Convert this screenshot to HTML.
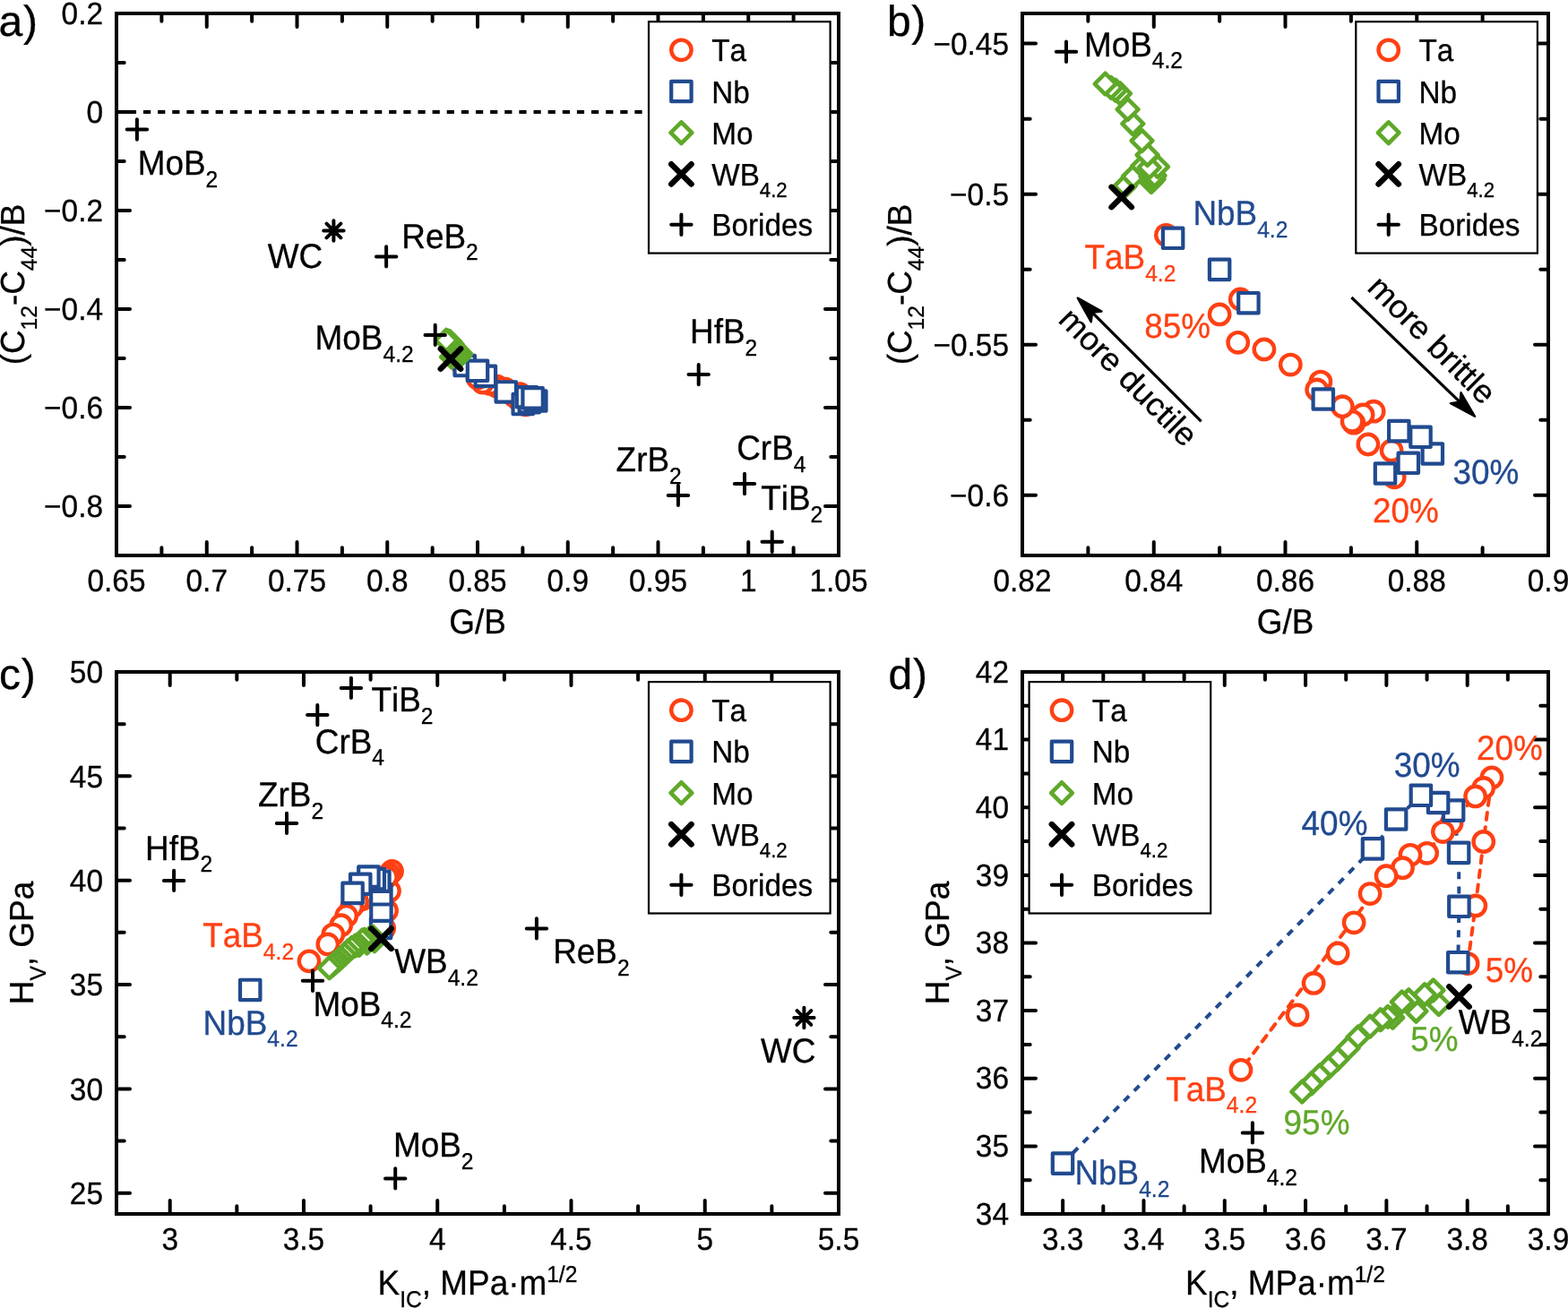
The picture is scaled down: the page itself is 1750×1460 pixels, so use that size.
<!DOCTYPE html>
<html lang="en"><head><meta charset="utf-8"><title>Figure</title>
<style>html,body{margin:0;padding:0;background:#fff}svg{display:block}text{white-space:pre;font-kerning:none;font-variant-ligatures:none;text-rendering:geometricPrecision}</style>
</head><body>
<svg xmlns="http://www.w3.org/2000/svg" width="1750" height="1460" viewBox="0 0 1750 1460" font-family='"Liberation Sans", Arial, Helvetica, sans-serif' fill="#000">
<rect width="1750" height="1460" fill="#fff"/>
<g id="pa">
<path d="M130 620v-15M130 15v15M180.38 620v-8.7M180.38 15v8.7M230.75 620v-15M230.75 15v15M281.13 620v-8.7M281.13 15v8.7M331.5 620v-15M331.5 15v15M381.88 620v-8.7M381.88 15v8.7M432.25 620v-15M432.25 15v15M482.63 620v-8.7M482.63 15v8.7M533 620v-15M533 15v15M583.37 620v-8.7M583.37 15v8.7M633.75 620v-15M633.75 15v15M684.12 620v-8.7M684.12 15v8.7M734.5 620v-15M734.5 15v15M784.88 620v-8.7M784.88 15v8.7M835.25 620v-15M835.25 15v15M885.62 620v-8.7M885.62 15v8.7M936 620v-15M936 15v15M130 620h8.7M936 620h-8.7M130 565h15M936 565h-15M130 510h8.7M936 510h-8.7M130 455h15M936 455h-15M130 400h8.7M936 400h-8.7M130 345h15M936 345h-15M130 290h8.7M936 290h-8.7M130 235h15M936 235h-15M130 180h8.7M936 180h-8.7M130 125h15M936 125h-15M130 70h8.7M936 70h-8.7M130 15h15M936 15h-15" fill="none" stroke="#000" stroke-width="4" stroke-linecap="round"/>
<path d="M130 125H930" stroke="#000" stroke-width="4" stroke-dasharray="8.2 7.93" stroke-dashoffset="2.26" fill="none"/>
<g fill="#fff" stroke="#FF4013" stroke-width="4.4"><circle cx="516.6" cy="407.47" r="11.2"/><circle cx="586.57" cy="451.73" r="11.2"/><circle cx="585.72" cy="446.84" r="11.2"/><circle cx="578.52" cy="445.71" r="11.2"/><circle cx="580.23" cy="439.69" r="11.2"/><circle cx="576.93" cy="440.29" r="11.2"/><circle cx="574.13" cy="441.81" r="11.2"/><circle cx="573.64" cy="441.5" r="11.2"/><circle cx="570.67" cy="438.79" r="11.2"/><circle cx="563.97" cy="434.27" r="11.2"/><circle cx="562.82" cy="435.71" r="11.2"/><circle cx="554.74" cy="431.16" r="11.2"/><circle cx="546.67" cy="428.36" r="11.2"/><circle cx="538.65" cy="427.1" r="11.2"/><circle cx="539.36" cy="419.2" r="11.2"/><circle cx="532.99" cy="421.97" r="11.2"/></g>
<g fill="#fff" stroke="#214A8F" stroke-width="4.2" stroke-linejoin="round"><rect x="507.51" y="396.84" width="22.4" height="22.4"/><rect x="530.66" y="408.69" width="22.4" height="22.4"/><rect x="553.57" y="426.25" width="22.4" height="22.4"/><rect x="572.57" y="439.83" width="22.4" height="22.4"/><rect x="579.65" y="437.91" width="22.4" height="22.4"/><rect x="576.77" y="432.07" width="22.4" height="22.4"/><rect x="587.07" y="436.23" width="22.4" height="22.4"/><rect x="583.42" y="433.17" width="22.4" height="22.4"/><rect x="521.79" y="402.58" width="22.4" height="22.4"/></g>
<g fill="#fff" stroke="#5FA829" stroke-width="4.6" stroke-linejoin="round"><path d="M504.08 386.7l11.8 11.8l-11.8 11.8l-11.8 -11.8z"/><path d="M506.58 384.98l11.8 11.8l-11.8 11.8l-11.8 -11.8z"/><path d="M509.4 383.08l11.8 11.8l-11.8 11.8l-11.8 -11.8z"/><path d="M511.93 384.97l11.8 11.8l-11.8 11.8l-11.8 -11.8z"/><path d="M512.07 385.98l11.8 11.8l-11.8 11.8l-11.8 -11.8z"/><path d="M512.81 385.47l11.8 11.8l-11.8 11.8l-11.8 -11.8z"/><path d="M513.08 384.82l11.8 11.8l-11.8 11.8l-11.8 -11.8z"/><path d="M514.04 383.2l11.8 11.8l-11.8 11.8l-11.8 -11.8z"/><path d="M511.46 383.31l11.8 11.8l-11.8 11.8l-11.8 -11.8z"/><path d="M510.89 381.05l11.8 11.8l-11.8 11.8l-11.8 -11.8z"/><path d="M509.21 378.45l11.8 11.8l-11.8 11.8l-11.8 -11.8z"/><path d="M506.41 375.36l11.8 11.8l-11.8 11.8l-11.8 -11.8z"/><path d="M504.84 372.73l11.8 11.8l-11.8 11.8l-11.8 -11.8z"/><path d="M502.48 369.81l11.8 11.8l-11.8 11.8l-11.8 -11.8z"/><path d="M501.11 369.22l11.8 11.8l-11.8 11.8l-11.8 -11.8z"/><path d="M499.74 368.77l11.8 11.8l-11.8 11.8l-11.8 -11.8z"/><path d="M497.98 368.06l11.8 11.8l-11.8 11.8l-11.8 -11.8z"/></g>
<path d="M491.75 389.35l22.4 22.4M491.75 411.75l22.4 -22.4" fill="none" stroke="#000" stroke-width="6.4" stroke-linecap="round"/>
<path d="M141.7 144.5h22.4M152.9 133.3v22.4" fill="none" stroke="#000" stroke-width="4" stroke-linecap="round"/>
<path d="M419.9 286.4h22.4M431.1 275.2v22.4" fill="none" stroke="#000" stroke-width="4" stroke-linecap="round"/>
<path d="M474.5 373.9h22.4M485.7 362.7v22.4" fill="none" stroke="#000" stroke-width="4" stroke-linecap="round"/>
<path d="M768.5 418.1h22.4M779.7 406.9v22.4" fill="none" stroke="#000" stroke-width="4" stroke-linecap="round"/>
<path d="M745.7 552.9h22.4M756.9 541.7v22.4" fill="none" stroke="#000" stroke-width="4" stroke-linecap="round"/>
<path d="M819.8 540h22.4M831 528.8v22.4" fill="none" stroke="#000" stroke-width="4" stroke-linecap="round"/>
<path d="M850.5 604.7h22.4M861.7 593.5v22.4" fill="none" stroke="#000" stroke-width="4" stroke-linecap="round"/>
<path d="M361.2 257.5h22.4M372.4 246.3v22.4M364.48 249.58l15.84 15.84M364.48 265.42l15.84 -15.84" fill="none" stroke="#000" stroke-width="4" stroke-linecap="round"/>
<rect x="724" y="24.2" width="202.6" height="258.4" fill="#fff" stroke="#000" stroke-width="2.2"/>
<g fill="#fff" stroke="#FF4013" stroke-width="4.4"><circle cx="760.4" cy="55.8" r="11.2"/></g>
<g fill="#fff" stroke="#214A8F" stroke-width="4.2" stroke-linejoin="round"><rect x="749.2" y="90.8" width="22.4" height="22.4"/></g>
<g fill="#fff" stroke="#5FA829" stroke-width="4.6" stroke-linejoin="round"><path d="M760.4 136.4l11.8 11.8l-11.8 11.8l-11.8 -11.8z"/></g>
<path d="M749.2 183.2l22.4 22.4M749.2 205.6l22.4 -22.4" fill="none" stroke="#000" stroke-width="6.4" stroke-linecap="round"/>
<path d="M749.2 250.8h22.4M760.4 239.6v22.4" fill="none" stroke="#000" stroke-width="4" stroke-linecap="round"/>
<text transform="translate(794.2 68.3) scale(1 1.045)" font-size="33.3" stroke="#000" stroke-width="0.3">Ta</text>
<text transform="translate(794.2 114.5) scale(1 1.045)" font-size="33.3" stroke="#000" stroke-width="0.3">Nb</text>
<text transform="translate(794.2 160.7) scale(1 1.045)" font-size="33.3" stroke="#000" stroke-width="0.3">Mo</text>
<text transform="translate(794.2 206.9) scale(1 1.045)" font-size="33.3" stroke="#000" stroke-width="0.3">WB<tspan dx="0" dy="12.34" font-size="22.2">4.2</tspan></text>
<text transform="translate(794.2 263.3) scale(1 1.045)" font-size="33.3" stroke="#000" stroke-width="0.3">Borides</text>
<rect x="130" y="15" width="806" height="605" fill="none" stroke="#000" stroke-width="4"/>
<text transform="translate(130 660) scale(1 1.045)" font-size="33.4" text-anchor="middle" stroke="#000" stroke-width="0.3">0.65</text>
<text transform="translate(230.75 660) scale(1 1.045)" font-size="33.4" text-anchor="middle" stroke="#000" stroke-width="0.3">0.7</text>
<text transform="translate(331.5 660) scale(1 1.045)" font-size="33.4" text-anchor="middle" stroke="#000" stroke-width="0.3">0.75</text>
<text transform="translate(432.25 660) scale(1 1.045)" font-size="33.4" text-anchor="middle" stroke="#000" stroke-width="0.3">0.8</text>
<text transform="translate(533 660) scale(1 1.045)" font-size="33.4" text-anchor="middle" stroke="#000" stroke-width="0.3">0.85</text>
<text transform="translate(633.75 660) scale(1 1.045)" font-size="33.4" text-anchor="middle" stroke="#000" stroke-width="0.3">0.9</text>
<text transform="translate(734.5 660) scale(1 1.045)" font-size="33.4" text-anchor="middle" stroke="#000" stroke-width="0.3">0.95</text>
<text transform="translate(835.25 660) scale(1 1.045)" font-size="33.4" text-anchor="middle" stroke="#000" stroke-width="0.3">1</text>
<text transform="translate(936 660) scale(1 1.045)" font-size="33.4" text-anchor="middle" stroke="#000" stroke-width="0.3">1.05</text>
<text transform="translate(115 577.3) scale(1 1.045)" font-size="33.4" text-anchor="end" stroke="#000" stroke-width="0.3">−0.8</text>
<text transform="translate(115 467.3) scale(1 1.045)" font-size="33.4" text-anchor="end" stroke="#000" stroke-width="0.3">−0.6</text>
<text transform="translate(115 357.3) scale(1 1.045)" font-size="33.4" text-anchor="end" stroke="#000" stroke-width="0.3">−0.4</text>
<text transform="translate(115 247.3) scale(1 1.045)" font-size="33.4" text-anchor="end" stroke="#000" stroke-width="0.3">−0.2</text>
<text transform="translate(115 137.3) scale(1 1.045)" font-size="33.4" text-anchor="end" stroke="#000" stroke-width="0.3">0</text>
<text transform="translate(115 27.3) scale(1 1.045)" font-size="33.4" text-anchor="end" stroke="#000" stroke-width="0.3">0.2</text>
<text transform="translate(153.7 194.8) scale(1 1.045)" font-size="36.9" stroke="#000" stroke-width="0.3">MoB<tspan dx="0" dy="13.21" font-size="24.6">2</tspan></text>
<text transform="translate(298.8 298.8) scale(1 1.045)" font-size="36.9" stroke="#000" stroke-width="0.3">WC</text>
<text transform="translate(448.3 276.6) scale(1 1.045)" font-size="36.9" stroke="#000" stroke-width="0.3">ReB<tspan dx="0" dy="13.21" font-size="24.6">2</tspan></text>
<text transform="translate(351.6 389.8) scale(1 1.045)" font-size="36.9" stroke="#000" stroke-width="0.3">MoB<tspan dx="0" dy="13.21" font-size="24.6">4.2</tspan></text>
<text transform="translate(770 382.9) scale(1 1.045)" font-size="36.9" stroke="#000" stroke-width="0.3">HfB<tspan dx="0" dy="13.21" font-size="24.6">2</tspan></text>
<text transform="translate(687.6 526.2) scale(1 1.045)" font-size="36.9" stroke="#000" stroke-width="0.3">ZrB<tspan dx="0" dy="13.21" font-size="24.6">2</tspan></text>
<text transform="translate(822.2 512.9) scale(1 1.045)" font-size="36.9" stroke="#000" stroke-width="0.3">CrB<tspan dx="0" dy="13.21" font-size="24.6">4</tspan></text>
<text transform="translate(849.2 569.1) scale(1 1.045)" font-size="36.9" stroke="#000" stroke-width="0.3">TiB<tspan dx="0" dy="13.21" font-size="24.6">2</tspan></text>
<text transform="translate(533 706.9) scale(1 1.045)" font-size="36.9" text-anchor="middle" stroke="#000" stroke-width="0.3">G/B</text>
<text transform="translate(27 317.5) rotate(-90) scale(1 1.02)" font-size="36.9" text-anchor="middle" stroke="#000" stroke-width="0.3">(C<tspan dx="0" dy="13.53" font-size="24.6">12</tspan><tspan dy="-13.53" font-size="36.9">-C</tspan><tspan dx="0" dy="13.53" font-size="24.6">44</tspan><tspan dy="-13.53" font-size="36.9">)/B</tspan></text>
<text x="-1.4" y="40" font-size="48" stroke="#000" stroke-width="0.3">a<tspan dx="0.7">)</tspan></text>
</g>
<g id="pb">
<path d="M1141 620v-15M1141 15v15M1214.38 620v-8.7M1214.38 15v8.7M1287.75 620v-15M1287.75 15v15M1361.12 620v-8.7M1361.12 15v8.7M1434.5 620v-15M1434.5 15v15M1507.88 620v-8.7M1507.88 15v8.7M1581.25 620v-15M1581.25 15v15M1654.62 620v-8.7M1654.62 15v8.7M1728 620v-15M1728 15v15M1141 552.78h15M1728 552.78h-15M1141 468.75h8.7M1728 468.75h-8.7M1141 384.72h15M1728 384.72h-15M1141 300.69h8.7M1728 300.69h-8.7M1141 216.67h15M1728 216.67h-15M1141 132.64h8.7M1728 132.64h-8.7M1141 48.61h15M1728 48.61h-15" fill="none" stroke="#000" stroke-width="4" stroke-linecap="round"/>
<g fill="#fff" stroke="#FF4013" stroke-width="4.4"><circle cx="1301.4" cy="262.3" r="11.2"/><circle cx="1556.2" cy="532.8" r="11.2"/><circle cx="1553.1" cy="502.9" r="11.2"/><circle cx="1526.9" cy="496" r="11.2"/><circle cx="1533.1" cy="459.2" r="11.2"/><circle cx="1521.1" cy="462.9" r="11.2"/><circle cx="1510.9" cy="472.2" r="11.2"/><circle cx="1509.1" cy="470.3" r="11.2"/><circle cx="1498.3" cy="453.7" r="11.2"/><circle cx="1473.9" cy="426.1" r="11.2"/><circle cx="1469.7" cy="434.9" r="11.2"/><circle cx="1440.3" cy="407.1" r="11.2"/><circle cx="1410.9" cy="390" r="11.2"/><circle cx="1381.7" cy="382.3" r="11.2"/><circle cx="1384.3" cy="334" r="11.2"/><circle cx="1361.1" cy="350.9" r="11.2"/></g>
<g fill="#fff" stroke="#214A8F" stroke-width="4.2" stroke-linejoin="round"><rect x="1297.9" y="254.6" width="22.4" height="22.4"/><rect x="1382.2" y="327" width="22.4" height="22.4"/><rect x="1465.6" y="434.3" width="22.4" height="22.4"/><rect x="1534.8" y="517.3" width="22.4" height="22.4"/><rect x="1560.6" y="505.6" width="22.4" height="22.4"/><rect x="1550.1" y="469.9" width="22.4" height="22.4"/><rect x="1587.6" y="495.3" width="22.4" height="22.4"/><rect x="1574.3" y="476.6" width="22.4" height="22.4"/><rect x="1349.9" y="289.7" width="22.4" height="22.4"/></g>
<g fill="#fff" stroke="#5FA829" stroke-width="4.6" stroke-linejoin="round"><path d="M1255.8 195.7l11.8 11.8l-11.8 11.8l-11.8 -11.8z"/><path d="M1264.9 185.2l11.8 11.8l-11.8 11.8l-11.8 -11.8z"/><path d="M1275.2 173.6l11.8 11.8l-11.8 11.8l-11.8 -11.8z"/><path d="M1284.4 185.1l11.8 11.8l-11.8 11.8l-11.8 -11.8z"/><path d="M1284.9 191.3l11.8 11.8l-11.8 11.8l-11.8 -11.8z"/><path d="M1287.6 188.2l11.8 11.8l-11.8 11.8l-11.8 -11.8z"/><path d="M1288.6 184.2l11.8 11.8l-11.8 11.8l-11.8 -11.8z"/><path d="M1292.1 174.3l11.8 11.8l-11.8 11.8l-11.8 -11.8z"/><path d="M1282.7 175l11.8 11.8l-11.8 11.8l-11.8 -11.8z"/><path d="M1280.6 161.2l11.8 11.8l-11.8 11.8l-11.8 -11.8z"/><path d="M1274.5 145.3l11.8 11.8l-11.8 11.8l-11.8 -11.8z"/><path d="M1264.3 126.4l11.8 11.8l-11.8 11.8l-11.8 -11.8z"/><path d="M1258.6 110.3l11.8 11.8l-11.8 11.8l-11.8 -11.8z"/><path d="M1250 92.5l11.8 11.8l-11.8 11.8l-11.8 -11.8z"/><path d="M1245 88.9l11.8 11.8l-11.8 11.8l-11.8 -11.8z"/><path d="M1240 86.1l11.8 11.8l-11.8 11.8l-11.8 -11.8z"/><path d="M1233.6 81.8l11.8 11.8l-11.8 11.8l-11.8 -11.8z"/></g>
<path d="M1240.5 208.8l22.4 22.4M1240.5 231.2l22.4 -22.4" fill="none" stroke="#000" stroke-width="6.4" stroke-linecap="round"/>
<path d="M1178.8 57.7h22.4M1190 46.5v22.4" fill="none" stroke="#000" stroke-width="4" stroke-linecap="round"/>
<rect x="1513.3" y="24.2" width="202.6" height="258.4" fill="#fff" stroke="#000" stroke-width="2.2"/>
<g fill="#fff" stroke="#FF4013" stroke-width="4.4"><circle cx="1549.7" cy="55.8" r="11.2"/></g>
<g fill="#fff" stroke="#214A8F" stroke-width="4.2" stroke-linejoin="round"><rect x="1538.5" y="90.8" width="22.4" height="22.4"/></g>
<g fill="#fff" stroke="#5FA829" stroke-width="4.6" stroke-linejoin="round"><path d="M1549.7 136.4l11.8 11.8l-11.8 11.8l-11.8 -11.8z"/></g>
<path d="M1538.5 183.2l22.4 22.4M1538.5 205.6l22.4 -22.4" fill="none" stroke="#000" stroke-width="6.4" stroke-linecap="round"/>
<path d="M1538.5 250.8h22.4M1549.7 239.6v22.4" fill="none" stroke="#000" stroke-width="4" stroke-linecap="round"/>
<text transform="translate(1583.5 68.3) scale(1 1.045)" font-size="33.3" stroke="#000" stroke-width="0.3">Ta</text>
<text transform="translate(1583.5 114.5) scale(1 1.045)" font-size="33.3" stroke="#000" stroke-width="0.3">Nb</text>
<text transform="translate(1583.5 160.7) scale(1 1.045)" font-size="33.3" stroke="#000" stroke-width="0.3">Mo</text>
<text transform="translate(1583.5 206.9) scale(1 1.045)" font-size="33.3" stroke="#000" stroke-width="0.3">WB<tspan dx="0" dy="12.34" font-size="22.2">4.2</tspan></text>
<text transform="translate(1583.5 263.3) scale(1 1.045)" font-size="33.3" stroke="#000" stroke-width="0.3">Borides</text>
<rect x="1141" y="15" width="587" height="605" fill="none" stroke="#000" stroke-width="4"/>
<text transform="translate(1141 660) scale(1 1.045)" font-size="33.4" text-anchor="middle" stroke="#000" stroke-width="0.3">0.82</text>
<text transform="translate(1287.75 660) scale(1 1.045)" font-size="33.4" text-anchor="middle" stroke="#000" stroke-width="0.3">0.84</text>
<text transform="translate(1434.5 660) scale(1 1.045)" font-size="33.4" text-anchor="middle" stroke="#000" stroke-width="0.3">0.86</text>
<text transform="translate(1581.25 660) scale(1 1.045)" font-size="33.4" text-anchor="middle" stroke="#000" stroke-width="0.3">0.88</text>
<text transform="translate(1728 660) scale(1 1.045)" font-size="33.4" text-anchor="middle" stroke="#000" stroke-width="0.3">0.9</text>
<text transform="translate(1126 565.08) scale(1 1.045)" font-size="33.4" text-anchor="end" stroke="#000" stroke-width="0.3">−0.6</text>
<text transform="translate(1126 397.02) scale(1 1.045)" font-size="33.4" text-anchor="end" stroke="#000" stroke-width="0.3">−0.55</text>
<text transform="translate(1126 228.97) scale(1 1.045)" font-size="33.4" text-anchor="end" stroke="#000" stroke-width="0.3">−0.5</text>
<text transform="translate(1126 60.91) scale(1 1.045)" font-size="33.4" text-anchor="end" stroke="#000" stroke-width="0.3">−0.45</text>
<text transform="translate(1209.9 62.6) scale(1 1.045)" font-size="36.9" stroke="#000" stroke-width="0.3">MoB<tspan dx="0" dy="13.21" font-size="24.6">4.2</tspan></text>
<text transform="translate(1331.4 251.1) scale(1 1.045)" font-size="36.9" fill="#214A8F" stroke="#214A8F" stroke-width="0.3">NbB<tspan dx="0" dy="13.21" font-size="24.6">4.2</tspan></text>
<text transform="translate(1210.5 300.1) scale(1 1.045)" font-size="36.9" fill="#FF4013" stroke="#FF4013" stroke-width="0.3">TaB<tspan dx="0" dy="13.21" font-size="24.6">4.2</tspan></text>
<text transform="translate(1277.3 377.1) scale(1 1.045)" font-size="36.9" fill="#FF4013" stroke="#FF4013" stroke-width="0.3">85%</text>
<text transform="translate(1532 583.4) scale(1 1.045)" font-size="36.9" fill="#FF4013" stroke="#FF4013" stroke-width="0.3">20%</text>
<text transform="translate(1621.5 540.2) scale(1 1.045)" font-size="36.9" fill="#214A8F" stroke="#214A8F" stroke-width="0.3">30%</text>
<path d="M1340.6 470.4L1219.03 348.92" stroke="#000" stroke-width="3.2" fill="none"/>
<path d="M1202.76 332.66L1229.5 347.64L1219.03 348.92L1217.76 359.38z" fill="#000" stroke="#000" stroke-width="2.4" stroke-linejoin="round"/>
<path d="M1508.4 332L1629.47 448.79" stroke="#000" stroke-width="3.2" fill="none"/>
<path d="M1646.02 464.76L1619.03 450.25L1629.47 448.79L1630.55 438.3z" fill="#000" stroke="#000" stroke-width="2.4" stroke-linejoin="round"/>
<text transform="translate(1179.7 358.4) rotate(45) scale(1 0.98)" font-size="36.9" stroke="#000" stroke-width="0.3">more ductile</text>
<text transform="translate(1524.4 322.7) rotate(45) scale(1 0.98)" font-size="36.9" stroke="#000" stroke-width="0.3">more brittle</text>
<text transform="translate(1434.5 706.9) scale(1 1.045)" font-size="36.9" text-anchor="middle" stroke="#000" stroke-width="0.3">G/B</text>
<text transform="translate(1017 317.5) rotate(-90) scale(1 1.02)" font-size="36.9" text-anchor="middle" stroke="#000" stroke-width="0.3">(C<tspan dx="0" dy="13.53" font-size="24.6">12</tspan><tspan dy="-13.53" font-size="36.9">-C</tspan><tspan dx="0" dy="13.53" font-size="24.6">44</tspan><tspan dy="-13.53" font-size="36.9">)/B</tspan></text>
<text x="989.9" y="39.7" font-size="48" stroke="#000" stroke-width="0.3">b<tspan dx="0.7">)</tspan></text>
</g>
<g id="pc">
<path d="M189.7 1355v-15M189.7 750v15M264.33 1355v-8.7M264.33 750v8.7M338.96 1355v-15M338.96 750v15M413.59 1355v-8.7M413.59 750v8.7M488.22 1355v-15M488.22 750v15M562.85 1355v-8.7M562.85 750v8.7M637.48 1355v-15M637.48 750v15M712.11 1355v-8.7M712.11 750v8.7M786.74 1355v-15M786.74 750v15M861.37 1355v-8.7M861.37 750v8.7M936 1355v-15M936 750v15M130 1331.73h15M936 1331.73h-15M130 1273.56h8.7M936 1273.56h-8.7M130 1215.38h15M936 1215.38h-15M130 1157.21h8.7M936 1157.21h-8.7M130 1099.04h15M936 1099.04h-15M130 1040.87h8.7M936 1040.87h-8.7M130 982.69h15M936 982.69h-15M130 924.52h8.7M936 924.52h-8.7M130 866.35h15M936 866.35h-15M130 808.17h8.7M936 808.17h-8.7M130 750h15M936 750h-15" fill="none" stroke="#000" stroke-width="4" stroke-linecap="round"/>
<g fill="#fff" stroke="#FF4013" stroke-width="4.4"><circle cx="344.96" cy="1072.86" r="11.2"/><circle cx="428.65" cy="1036.34" r="11.2"/><circle cx="431.53" cy="1016.46" r="11.2"/><circle cx="434.47" cy="994.46" r="11.2"/><circle cx="437.51" cy="972.46" r="11.2"/><circle cx="434.47" cy="975.97" r="11.2"/><circle cx="431.46" cy="978.89" r="11.2"/><circle cx="422.67" cy="988.12" r="11.2"/><circle cx="419.5" cy="991.11" r="11.2"/><circle cx="413.61" cy="998.4" r="11.2"/><circle cx="407.46" cy="999.02" r="11.2"/><circle cx="404.65" cy="1003.45" r="11.2"/><circle cx="398.57" cy="1006.22" r="11.2"/><circle cx="392.62" cy="1012.34" r="11.2"/><circle cx="386.67" cy="1022.25" r="11.2"/><circle cx="380.72" cy="1032.77" r="11.2"/><circle cx="371.8" cy="1043.05" r="11.2"/><circle cx="365.81" cy="1053.97" r="11.2"/></g>
<g fill="#fff" stroke="#214A8F" stroke-width="4.2" stroke-linejoin="round"><rect x="413.88" y="1024.71" width="22.4" height="22.4"/><rect x="414.25" y="1005.51" width="22.4" height="22.4"/><rect x="414.15" y="987.08" width="22.4" height="22.4"/><rect x="412.16" y="972.52" width="22.4" height="22.4"/><rect x="406.54" y="969.88" width="22.4" height="22.4"/><rect x="400.2" y="967.35" width="22.4" height="22.4"/><rect x="391.01" y="975.57" width="22.4" height="22.4"/><rect x="382.38" y="985.69" width="22.4" height="22.4"/><rect x="268.01" y="1093.75" width="22.4" height="22.4"/></g>
<g fill="#fff" stroke="#5FA829" stroke-width="4.6" stroke-linejoin="round"><path d="M417.98 1038.54l11.8 11.8l-11.8 11.8l-11.8 -11.8z"/><path d="M415.93 1033.71l11.8 11.8l-11.8 11.8l-11.8 -11.8z"/><path d="M412.75 1035.18l11.8 11.8l-11.8 11.8l-11.8 -11.8z"/><path d="M409.61 1040.88l11.8 11.8l-11.8 11.8l-11.8 -11.8z"/><path d="M406.87 1037.06l11.8 11.8l-11.8 11.8l-11.8 -11.8z"/><path d="M404.39 1037.71l11.8 11.8l-11.8 11.8l-11.8 -11.8z"/><path d="M400.95 1043.06l11.8 11.8l-11.8 11.8l-11.8 -11.8z"/><path d="M399.17 1042.78l11.8 11.8l-11.8 11.8l-11.8 -11.8z"/><path d="M396.46 1043.83l11.8 11.8l-11.8 11.8l-11.8 -11.8z"/><path d="M392.59 1046.14l11.8 11.8l-11.8 11.8l-11.8 -11.8z"/><path d="M388.13 1049.77l11.8 11.8l-11.8 11.8l-11.8 -11.8z"/><path d="M384.52 1053.52l11.8 11.8l-11.8 11.8l-11.8 -11.8z"/><path d="M380.59 1057.34l11.8 11.8l-11.8 11.8l-11.8 -11.8z"/><path d="M377.25 1060.29l11.8 11.8l-11.8 11.8l-11.8 -11.8z"/><path d="M374.01 1062.94l11.8 11.8l-11.8 11.8l-11.8 -11.8z"/><path d="M370.97 1065.74l11.8 11.8l-11.8 11.8l-11.8 -11.8z"/><path d="M367.53 1068.54l11.8 11.8l-11.8 11.8l-11.8 -11.8z"/></g>
<path d="M414.28 1036.49l22.4 22.4M414.28 1058.89l22.4 -22.4" fill="none" stroke="#000" stroke-width="6.4" stroke-linecap="round"/>
<path d="M380.7 767.9h22.4M391.9 756.7v22.4" fill="none" stroke="#000" stroke-width="4" stroke-linecap="round"/>
<path d="M343.1 798.1h22.4M354.3 786.9v22.4" fill="none" stroke="#000" stroke-width="4" stroke-linecap="round"/>
<path d="M308.8 918.9h22.4M320 907.7v22.4" fill="none" stroke="#000" stroke-width="4" stroke-linecap="round"/>
<path d="M182.9 982.9h22.4M194.1 971.7v22.4" fill="none" stroke="#000" stroke-width="4" stroke-linecap="round"/>
<path d="M337.8 1094.7h22.4M349 1083.5v22.4" fill="none" stroke="#000" stroke-width="4" stroke-linecap="round"/>
<path d="M587.7 1036.4h22.4M598.9 1025.2v22.4" fill="none" stroke="#000" stroke-width="4" stroke-linecap="round"/>
<path d="M430 1315.4h22.4M441.2 1304.2v22.4" fill="none" stroke="#000" stroke-width="4" stroke-linecap="round"/>
<path d="M886.2 1136h22.4M897.4 1124.8v22.4M889.48 1128.08l15.84 15.84M889.48 1143.92l15.84 -15.84" fill="none" stroke="#000" stroke-width="4" stroke-linecap="round"/>
<rect x="724" y="761.1" width="202.6" height="258.4" fill="#fff" stroke="#000" stroke-width="2.2"/>
<g fill="#fff" stroke="#FF4013" stroke-width="4.4"><circle cx="760.4" cy="792.7" r="11.2"/></g>
<g fill="#fff" stroke="#214A8F" stroke-width="4.2" stroke-linejoin="round"><rect x="749.2" y="827.7" width="22.4" height="22.4"/></g>
<g fill="#fff" stroke="#5FA829" stroke-width="4.6" stroke-linejoin="round"><path d="M760.4 873.3l11.8 11.8l-11.8 11.8l-11.8 -11.8z"/></g>
<path d="M749.2 920.1l22.4 22.4M749.2 942.5l22.4 -22.4" fill="none" stroke="#000" stroke-width="6.4" stroke-linecap="round"/>
<path d="M749.2 987.7h22.4M760.4 976.5v22.4" fill="none" stroke="#000" stroke-width="4" stroke-linecap="round"/>
<text transform="translate(794.2 805.2) scale(1 1.045)" font-size="33.3" stroke="#000" stroke-width="0.3">Ta</text>
<text transform="translate(794.2 851.4) scale(1 1.045)" font-size="33.3" stroke="#000" stroke-width="0.3">Nb</text>
<text transform="translate(794.2 897.6) scale(1 1.045)" font-size="33.3" stroke="#000" stroke-width="0.3">Mo</text>
<text transform="translate(794.2 943.8) scale(1 1.045)" font-size="33.3" stroke="#000" stroke-width="0.3">WB<tspan dx="0" dy="12.34" font-size="22.2">4.2</tspan></text>
<text transform="translate(794.2 1000.2) scale(1 1.045)" font-size="33.3" stroke="#000" stroke-width="0.3">Borides</text>
<rect x="130" y="750" width="806" height="605" fill="none" stroke="#000" stroke-width="4"/>
<text transform="translate(189.7 1395) scale(1 1.045)" font-size="33.4" text-anchor="middle" stroke="#000" stroke-width="0.3">3</text>
<text transform="translate(338.96 1395) scale(1 1.045)" font-size="33.4" text-anchor="middle" stroke="#000" stroke-width="0.3">3.5</text>
<text transform="translate(488.22 1395) scale(1 1.045)" font-size="33.4" text-anchor="middle" stroke="#000" stroke-width="0.3">4</text>
<text transform="translate(637.48 1395) scale(1 1.045)" font-size="33.4" text-anchor="middle" stroke="#000" stroke-width="0.3">4.5</text>
<text transform="translate(786.74 1395) scale(1 1.045)" font-size="33.4" text-anchor="middle" stroke="#000" stroke-width="0.3">5</text>
<text transform="translate(936 1395) scale(1 1.045)" font-size="33.4" text-anchor="middle" stroke="#000" stroke-width="0.3">5.5</text>
<text transform="translate(115 1344.03) scale(1 1.045)" font-size="33.4" text-anchor="end" stroke="#000" stroke-width="0.3">25</text>
<text transform="translate(115 1227.68) scale(1 1.045)" font-size="33.4" text-anchor="end" stroke="#000" stroke-width="0.3">30</text>
<text transform="translate(115 1111.34) scale(1 1.045)" font-size="33.4" text-anchor="end" stroke="#000" stroke-width="0.3">35</text>
<text transform="translate(115 994.99) scale(1 1.045)" font-size="33.4" text-anchor="end" stroke="#000" stroke-width="0.3">40</text>
<text transform="translate(115 878.65) scale(1 1.045)" font-size="33.4" text-anchor="end" stroke="#000" stroke-width="0.3">45</text>
<text transform="translate(115 762.3) scale(1 1.045)" font-size="33.4" text-anchor="end" stroke="#000" stroke-width="0.3">50</text>
<text transform="translate(414.5 794.4) scale(1 1.045)" font-size="36.9" stroke="#000" stroke-width="0.3">TiB<tspan dx="0" dy="13.21" font-size="24.6">2</tspan></text>
<text transform="translate(351.8 840.5) scale(1 1.045)" font-size="36.9" stroke="#000" stroke-width="0.3">CrB<tspan dx="0" dy="13.21" font-size="24.6">4</tspan></text>
<text transform="translate(288 899.8) scale(1 1.045)" font-size="36.9" stroke="#000" stroke-width="0.3">ZrB<tspan dx="0" dy="13.21" font-size="24.6">2</tspan></text>
<text transform="translate(162.1 959.5) scale(1 1.045)" font-size="36.9" stroke="#000" stroke-width="0.3">HfB<tspan dx="0" dy="13.21" font-size="24.6">2</tspan></text>
<text transform="translate(226.2 1057.4) scale(1 1.045)" font-size="36.9" fill="#FF4013" stroke="#FF4013" stroke-width="0.3">TaB<tspan dx="0" dy="13.21" font-size="24.6">4.2</tspan></text>
<text transform="translate(226.6 1154.5) scale(1 1.045)" font-size="36.9" fill="#214A8F" stroke="#214A8F" stroke-width="0.3">NbB<tspan dx="0" dy="13.21" font-size="24.6">4.2</tspan></text>
<text transform="translate(349.4 1133.5) scale(1 1.045)" font-size="36.9" stroke="#000" stroke-width="0.3">MoB<tspan dx="0" dy="13.21" font-size="24.6">4.2</tspan></text>
<text transform="translate(440.2 1086.2) scale(1 1.045)" font-size="36.9" stroke="#000" stroke-width="0.3">WB<tspan dx="0" dy="13.21" font-size="24.6">4.2</tspan></text>
<text transform="translate(617.2 1075) scale(1 1.045)" font-size="36.9" stroke="#000" stroke-width="0.3">ReB<tspan dx="0" dy="13.21" font-size="24.6">2</tspan></text>
<text transform="translate(439 1291.1) scale(1 1.045)" font-size="36.9" stroke="#000" stroke-width="0.3">MoB<tspan dx="0" dy="13.21" font-size="24.6">2</tspan></text>
<text transform="translate(849 1186.1) scale(1 1.045)" font-size="36.9" stroke="#000" stroke-width="0.3">WC</text>
<text transform="translate(533 1445.4) scale(1 1.045)" font-size="36.9" text-anchor="middle" stroke="#000" stroke-width="0.3">K<tspan dx="0" dy="13.21" font-size="24.6">IC</tspan><tspan dy="-13.21" font-size="36.9">, MPa·m</tspan><tspan dy="-13.4" font-size="24.6">1/2</tspan></text>
<text transform="translate(37.4 1052.5) rotate(-90) scale(1 1.02)" font-size="36.9" text-anchor="middle" stroke="#000" stroke-width="0.3">H<tspan dx="0" dy="13.53" font-size="24.6">V</tspan><tspan dy="-13.53" font-size="36.9">, GPa</tspan></text>
<text x="-1" y="768.7" font-size="48" stroke="#000" stroke-width="0.3">c<tspan dx="0.7">)</tspan></text>
</g>
<g id="pd">
<path d="M1141 1355v-8.7M1141 750v8.7M1186.15 1355v-15M1186.15 750v15M1231.31 1355v-8.7M1231.31 750v8.7M1276.46 1355v-15M1276.46 750v15M1321.62 1355v-8.7M1321.62 750v8.7M1366.77 1355v-15M1366.77 750v15M1411.92 1355v-8.7M1411.92 750v8.7M1457.08 1355v-15M1457.08 750v15M1502.23 1355v-8.7M1502.23 750v8.7M1547.38 1355v-15M1547.38 750v15M1592.54 1355v-8.7M1592.54 750v8.7M1637.69 1355v-15M1637.69 750v15M1682.85 1355v-8.7M1682.85 750v8.7M1728 1355v-15M1728 750v15M1141 1355h15M1728 1355h-15M1141 1317.19h8.7M1728 1317.19h-8.7M1141 1279.38h15M1728 1279.38h-15M1141 1241.56h8.7M1728 1241.56h-8.7M1141 1203.75h15M1728 1203.75h-15M1141 1165.94h8.7M1728 1165.94h-8.7M1141 1128.12h15M1728 1128.12h-15M1141 1090.31h8.7M1728 1090.31h-8.7M1141 1052.5h15M1728 1052.5h-15M1141 1014.69h8.7M1728 1014.69h-8.7M1141 976.88h15M1728 976.88h-15M1141 939.06h8.7M1728 939.06h-8.7M1141 901.25h15M1728 901.25h-15M1141 863.44h8.7M1728 863.44h-8.7M1141 825.62h15M1728 825.62h-15M1141 787.81h8.7M1728 787.81h-8.7M1141 750h15M1728 750h-15" fill="none" stroke="#000" stroke-width="4" stroke-linecap="round"/>
<polyline points="1638.1,1075.6 1646.8,1011 1655.7,939.5 1664.9,868 1655.7,879.4 1646.6,888.9 1620,918.9 1610.4,928.6 1592.6,952.3 1574,954.3 1565.5,968.7 1547.1,977.7 1384.9,1194.3" fill="none" stroke="#FF4013" stroke-width="4" stroke-linecap="round" stroke-dasharray="7.9 8.3" stroke-dashoffset="0"/>
<polyline points="1186,1298.6 1532,947.4 1558.1,914.5 1585.9,887.8 1605.1,896 1622.1,904.6 1628.1,951.9 1628.4,1011.8 1627.3,1074.2" fill="none" stroke="#214A8F" stroke-width="4" stroke-dasharray="8.1 8.15"/>
<g fill="#fff" stroke="#FF4013" stroke-width="4.4"><circle cx="1384.9" cy="1194.3" r="11.2"/><circle cx="1638.1" cy="1075.6" r="11.2"/><circle cx="1646.8" cy="1011" r="11.2"/><circle cx="1655.7" cy="939.5" r="11.2"/><circle cx="1664.9" cy="868" r="11.2"/><circle cx="1655.7" cy="879.4" r="11.2"/><circle cx="1646.6" cy="888.9" r="11.2"/><circle cx="1620" cy="918.9" r="11.2"/><circle cx="1610.4" cy="928.6" r="11.2"/><circle cx="1592.6" cy="952.3" r="11.2"/><circle cx="1574" cy="954.3" r="11.2"/><circle cx="1565.5" cy="968.7" r="11.2"/><circle cx="1547.1" cy="977.7" r="11.2"/><circle cx="1529.1" cy="997.6" r="11.2"/><circle cx="1511.1" cy="1029.8" r="11.2"/><circle cx="1493.1" cy="1064" r="11.2"/><circle cx="1466.1" cy="1097.4" r="11.2"/><circle cx="1448" cy="1132.9" r="11.2"/></g>
<g fill="#fff" stroke="#214A8F" stroke-width="4.2" stroke-linejoin="round"><rect x="1616.1" y="1063" width="22.4" height="22.4"/><rect x="1617.2" y="1000.6" width="22.4" height="22.4"/><rect x="1616.9" y="940.7" width="22.4" height="22.4"/><rect x="1610.9" y="893.4" width="22.4" height="22.4"/><rect x="1593.9" y="884.8" width="22.4" height="22.4"/><rect x="1574.7" y="876.6" width="22.4" height="22.4"/><rect x="1546.9" y="903.3" width="22.4" height="22.4"/><rect x="1520.8" y="936.2" width="22.4" height="22.4"/><rect x="1174.8" y="1287.4" width="22.4" height="22.4"/></g>
<g fill="#fff" stroke="#5FA829" stroke-width="4.6" stroke-linejoin="round"><path d="M1605.8 1109.3l11.8 11.8l-11.8 11.8l-11.8 -11.8z"/><path d="M1599.6 1093.6l11.8 11.8l-11.8 11.8l-11.8 -11.8z"/><path d="M1590 1098.4l11.8 11.8l-11.8 11.8l-11.8 -11.8z"/><path d="M1580.5 1116.9l11.8 11.8l-11.8 11.8l-11.8 -11.8z"/><path d="M1572.2 1104.5l11.8 11.8l-11.8 11.8l-11.8 -11.8z"/><path d="M1564.7 1106.6l11.8 11.8l-11.8 11.8l-11.8 -11.8z"/><path d="M1554.3 1124l11.8 11.8l-11.8 11.8l-11.8 -11.8z"/><path d="M1548.9 1123.1l11.8 11.8l-11.8 11.8l-11.8 -11.8z"/><path d="M1540.7 1126.5l11.8 11.8l-11.8 11.8l-11.8 -11.8z"/><path d="M1529 1134l11.8 11.8l-11.8 11.8l-11.8 -11.8z"/><path d="M1515.5 1145.8l11.8 11.8l-11.8 11.8l-11.8 -11.8z"/><path d="M1504.6 1158l11.8 11.8l-11.8 11.8l-11.8 -11.8z"/><path d="M1492.7 1170.4l11.8 11.8l-11.8 11.8l-11.8 -11.8z"/><path d="M1482.6 1180l11.8 11.8l-11.8 11.8l-11.8 -11.8z"/><path d="M1472.8 1188.6l11.8 11.8l-11.8 11.8l-11.8 -11.8z"/><path d="M1463.6 1197.7l11.8 11.8l-11.8 11.8l-11.8 -11.8z"/><path d="M1453.2 1206.8l11.8 11.8l-11.8 11.8l-11.8 -11.8z"/></g>
<path d="M1617.3 1101.3l22.4 22.4M1617.3 1123.7l22.4 -22.4" fill="none" stroke="#000" stroke-width="6.4" stroke-linecap="round"/>
<path d="M1386.7 1264.4h22.4M1397.9 1253.2v22.4" fill="none" stroke="#000" stroke-width="4" stroke-linecap="round"/>
<rect x="1148.6" y="761.1" width="202.6" height="258.4" fill="#fff" stroke="#000" stroke-width="2.2"/>
<g fill="#fff" stroke="#FF4013" stroke-width="4.4"><circle cx="1185" cy="792.7" r="11.2"/></g>
<g fill="#fff" stroke="#214A8F" stroke-width="4.2" stroke-linejoin="round"><rect x="1173.8" y="827.7" width="22.4" height="22.4"/></g>
<g fill="#fff" stroke="#5FA829" stroke-width="4.6" stroke-linejoin="round"><path d="M1185 873.3l11.8 11.8l-11.8 11.8l-11.8 -11.8z"/></g>
<path d="M1173.8 920.1l22.4 22.4M1173.8 942.5l22.4 -22.4" fill="none" stroke="#000" stroke-width="6.4" stroke-linecap="round"/>
<path d="M1173.8 987.7h22.4M1185 976.5v22.4" fill="none" stroke="#000" stroke-width="4" stroke-linecap="round"/>
<text transform="translate(1218.8 805.2) scale(1 1.045)" font-size="33.3" stroke="#000" stroke-width="0.3">Ta</text>
<text transform="translate(1218.8 851.4) scale(1 1.045)" font-size="33.3" stroke="#000" stroke-width="0.3">Nb</text>
<text transform="translate(1218.8 897.6) scale(1 1.045)" font-size="33.3" stroke="#000" stroke-width="0.3">Mo</text>
<text transform="translate(1218.8 943.8) scale(1 1.045)" font-size="33.3" stroke="#000" stroke-width="0.3">WB<tspan dx="0" dy="12.34" font-size="22.2">4.2</tspan></text>
<text transform="translate(1218.8 1000.2) scale(1 1.045)" font-size="33.3" stroke="#000" stroke-width="0.3">Borides</text>
<rect x="1141" y="750" width="587" height="605" fill="none" stroke="#000" stroke-width="4"/>
<text transform="translate(1186.15 1395) scale(1 1.045)" font-size="33.4" text-anchor="middle" stroke="#000" stroke-width="0.3">3.3</text>
<text transform="translate(1276.46 1395) scale(1 1.045)" font-size="33.4" text-anchor="middle" stroke="#000" stroke-width="0.3">3.4</text>
<text transform="translate(1366.77 1395) scale(1 1.045)" font-size="33.4" text-anchor="middle" stroke="#000" stroke-width="0.3">3.5</text>
<text transform="translate(1457.08 1395) scale(1 1.045)" font-size="33.4" text-anchor="middle" stroke="#000" stroke-width="0.3">3.6</text>
<text transform="translate(1547.38 1395) scale(1 1.045)" font-size="33.4" text-anchor="middle" stroke="#000" stroke-width="0.3">3.7</text>
<text transform="translate(1637.69 1395) scale(1 1.045)" font-size="33.4" text-anchor="middle" stroke="#000" stroke-width="0.3">3.8</text>
<text transform="translate(1728 1395) scale(1 1.045)" font-size="33.4" text-anchor="middle" stroke="#000" stroke-width="0.3">3.9</text>
<text transform="translate(1126 1366.7) scale(1 1.045)" font-size="33.4" text-anchor="end" stroke="#000" stroke-width="0.3">34</text>
<text transform="translate(1126 1291.08) scale(1 1.045)" font-size="33.4" text-anchor="end" stroke="#000" stroke-width="0.3">35</text>
<text transform="translate(1126 1215.45) scale(1 1.045)" font-size="33.4" text-anchor="end" stroke="#000" stroke-width="0.3">36</text>
<text transform="translate(1126 1139.83) scale(1 1.045)" font-size="33.4" text-anchor="end" stroke="#000" stroke-width="0.3">37</text>
<text transform="translate(1126 1064.2) scale(1 1.045)" font-size="33.4" text-anchor="end" stroke="#000" stroke-width="0.3">38</text>
<text transform="translate(1126 988.58) scale(1 1.045)" font-size="33.4" text-anchor="end" stroke="#000" stroke-width="0.3">39</text>
<text transform="translate(1126 912.95) scale(1 1.045)" font-size="33.4" text-anchor="end" stroke="#000" stroke-width="0.3">40</text>
<text transform="translate(1126 837.33) scale(1 1.045)" font-size="33.4" text-anchor="end" stroke="#000" stroke-width="0.3">41</text>
<text transform="translate(1126 761.7) scale(1 1.045)" font-size="33.4" text-anchor="end" stroke="#000" stroke-width="0.3">42</text>
<text transform="translate(1301.2 1228.6) scale(1 1.045)" font-size="36.9" fill="#FF4013" stroke="#FF4013" stroke-width="0.3">TaB<tspan dx="0" dy="13.21" font-size="24.6">4.2</tspan></text>
<text transform="translate(1199.4 1322.4) scale(1 1.045)" font-size="36.9" fill="#214A8F" stroke="#214A8F" stroke-width="0.3">NbB<tspan dx="0" dy="13.21" font-size="24.6">4.2</tspan></text>
<text transform="translate(1338 1309.3) scale(1 1.045)" font-size="36.9" stroke="#000" stroke-width="0.3">MoB<tspan dx="0" dy="13.21" font-size="24.6">4.2</tspan></text>
<text transform="translate(1627.7 1153.9) scale(1 1.045)" font-size="36.9" stroke="#000" stroke-width="0.3">WB<tspan dx="0" dy="13.21" font-size="24.6">4.2</tspan></text>
<text transform="translate(1452.6 932.4) scale(1 1.045)" font-size="36.9" fill="#214A8F" stroke="#214A8F" stroke-width="0.3">40%</text>
<text transform="translate(1555.7 866.5) scale(1 1.045)" font-size="36.9" fill="#214A8F" stroke="#214A8F" stroke-width="0.3">30%</text>
<text transform="translate(1648 847.7) scale(1 1.045)" font-size="36.9" fill="#FF4013" stroke="#FF4013" stroke-width="0.3">20%</text>
<text transform="translate(1657.7 1095.8) scale(1 1.045)" font-size="36.9" fill="#FF4013" stroke="#FF4013" stroke-width="0.3">5%</text>
<text transform="translate(1574.3 1172.8) scale(1 1.045)" font-size="36.9" fill="#5FA829" stroke="#5FA829" stroke-width="0.3">5%</text>
<text transform="translate(1432.6 1265.9) scale(1 1.045)" font-size="36.9" fill="#5FA829" stroke="#5FA829" stroke-width="0.3">95%</text>
<text transform="translate(1434.5 1445.4) scale(1 1.045)" font-size="36.9" text-anchor="middle" stroke="#000" stroke-width="0.3">K<tspan dx="0" dy="13.21" font-size="24.6">IC</tspan><tspan dy="-13.21" font-size="36.9">, MPa·m</tspan><tspan dy="-13.4" font-size="24.6">1/2</tspan></text>
<text transform="translate(1059.3 1052.5) rotate(-90) scale(1 1.02)" font-size="36.9" text-anchor="middle" stroke="#000" stroke-width="0.3">H<tspan dx="0" dy="13.53" font-size="24.6">V</tspan><tspan dy="-13.53" font-size="36.9">, GPa</tspan></text>
<text x="991.5" y="768.7" font-size="48" stroke="#000" stroke-width="0.3">d<tspan dx="0.7">)</tspan></text>
</g>
</svg>
</body></html>
